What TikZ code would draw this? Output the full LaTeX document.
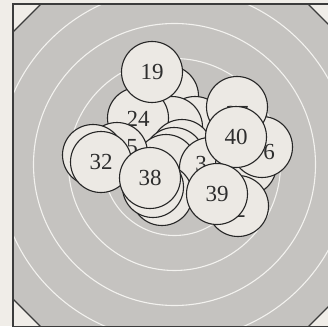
\documentclass[tikz,border=0pt]{standalone}
\usepackage{fontspec}
\setmainfont{Liberation Serif}
\definecolor{paperc}{HTML}{F0EDE8}
\definecolor{grayc}{HTML}{C5C3C0}
\definecolor{ringc}{HTML}{F3F2EF}
\definecolor{discc}{HTML}{ECE9E4}
\definecolor{strokec}{HTML}{262626}
\definecolor{textc}{HTML}{2E2E2E}
\begin{document}
\begin{tikzpicture}[x=1pt,y=-1pt,
  shot/.style={circle, draw=strokec, fill=discc, line width=1.1pt, minimum size=61pt, inner sep=0pt,
    font=\fontsize{23}{23}\selectfont, text=textc},
  lbl/.style={inner sep=0pt, font=\fontsize{23}{23}\selectfont, text=textc},
  ring/.style={draw=ringc, line width=1.1pt},
  frameline/.style={draw=strokec!90, line width=1.1pt}]
\useasboundingbox (0,0) rectangle (328,326);
\fill[paperc] (0,0) rectangle (328,326);
% target card
\fill[grayc] (13,32) -- (41,4) -- (308,4) -- (336,32) -- (336,299) -- (308,327) -- (41,327) -- (13,299) -- cycle;
\begin{scope}
  \clip (13,32) -- (41,4) -- (308,4) -- (336,32) -- (336,299) -- (308,327) -- (41,327) -- (13,299) -- cycle;
  \foreach \r in {36,71,106,141,176} {
    \draw[ring] (174.5,164.5) circle[radius=\r pt];
  }
\end{scope}
\draw[frameline] (13,4) rectangle (336,327);
\draw[frameline] (13,32) -- (41,4);
\draw[frameline] (308,4) -- (336,32);
\draw[frameline] (13,299) -- (41,327);
\draw[frameline] (308,327) -- (336,299);
% shots, back to front
\node[shot] (h1) at (168,96) {};
\node[shot] (h3) at (195,127) {};
\node[shot] (h2) at (172,127) {};
\node[shot] (c24) at (138,118) {};
\node[lbl] (l24) at (138,119) {24};
\node[shot] (m1) at (182,150) {};
\node[shot] (m2) at (174,158) {};
\node[shot] (m3) at (166,165) {};
\node[shot] (c19) at (152,72) {19};
\node[shot] (c3x) at (210,168) {};
\node[lbl] (l3) at (201,164) {3};
\node[shot] (c5x) at (117,153) {};
\node[lbl] (l5) at (132,147) {5};
\node[shot] (cl) at (93,155) {};
\node[shot] (c32) at (101,162) {32};
\node[shot] (b2) at (162,195) {};
\node[shot] (b1) at (153,187) {};
\node[shot] (c38) at (150,178) {38};
\node[shot] (r1) at (246,165) {};
\node[shot] (c6x) at (262,147) {};
\node[lbl] (l6) at (269,152) {6};
\node[shot] (c27) at (237,107) {};
\node[lbl] (l27) at (237,114) {27};
\node[shot] (c40) at (236,137) {40};
\node[shot] (c2x) at (238,206) {};
\node[lbl] (l2) at (240,210) {2};
\node[shot] (c39) at (217,194) {39};
\end{tikzpicture}
\end{document}
